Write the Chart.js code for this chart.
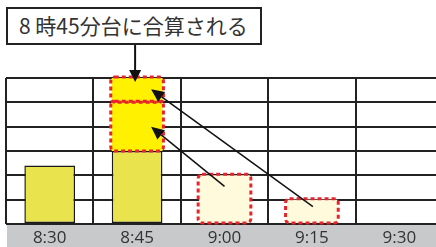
<!DOCTYPE html>
<html>
<head>
<meta charset="utf-8">
<script src="https://cdn.jsdelivr.net/npm/chart.js@4/dist/chart.umd.min.js"></script>
<style>
  body { margin: 0; background: #fff; }
  #wrap { position: relative; width: 436px; height: 247px; overflow: hidden; }
  #chart { position: absolute; left: 0; top: 0; }
  #note {
    position: absolute; left: 6px; top: 7px; width: 256px; height: 38px;
    box-sizing: border-box; border: 2px solid #222; background: #fff;
    font: 21px "Noto Sans CJK JP", sans-serif; color: #333;
    line-height: 33px; padding-left: 11px; white-space: nowrap;
  }
</style>
</head>
<body>
<div id="wrap">
  <canvas id="chart" width="443" height="247"></canvas>
  <div id="note">8 時45分台に合算される</div>
</div>
<script>
// time slots
const categories = ['8:30', '8:45', '9:00', '9:15', '9:30'];
// counts already in their slot
const baseValues = [2.4, 3, 0, 0, 0];
// counts from 9:00 added into 8:45
const movedFrom900 = [0, 2, 0, 0, 0];
// counts from 9:15 added into 8:45
const movedFrom915 = [0, 1, 0, 0, 0];
// where those counts originally were
const originalLate = [0, 0, 2, 1, 0];

const DASHED = [1, 2, 3];

const bandPlugin = {
  id: 'band',
  beforeDraw(chart) {
    const { ctx, chartArea } = chart;
    ctx.save();
    ctx.fillStyle = '#C8C9CB';
    ctx.fillRect(chartArea.left + 1, chartArea.bottom + 1, chart.width, chart.height - chartArea.bottom);
    ctx.restore();
  }
};

function arrow(ctx, x1, y1, x2, y2, head, wide) {
  const a = Math.atan2(y2 - y1, x2 - x1);
  const bx = x2 - head * Math.cos(a), by = y2 - head * Math.sin(a);
  ctx.beginPath();
  ctx.moveTo(x1, y1);
  ctx.lineTo(bx, by);
  ctx.stroke();
  ctx.beginPath();
  ctx.moveTo(x2, y2);
  ctx.lineTo(bx + wide * Math.sin(a), by - wide * Math.cos(a));
  ctx.lineTo(bx - wide * Math.sin(a), by + wide * Math.cos(a));
  ctx.closePath();
  ctx.fill();
}

const dashPlugin = {
  id: 'dashes',
  afterDatasetsDraw(chart) {
    const ctx = chart.ctx;
    ctx.save();
    ctx.strokeStyle = '#E8232B';
    ctx.lineWidth = 3;
    ctx.setLineDash([4, 3]);
    DASHED.forEach(di => {
      chart.getDatasetMeta(di).data.forEach(el => {
        if (Math.abs(el.base - el.y) < 1) return;
        const l = el.x - el.width / 2 - 1, t = el.y - 1;
        ctx.beginPath();
        ctx.roundRect(l, t, el.width + 2, el.base - el.y + 1, 4);
        ctx.stroke();
      });
    });
    ctx.restore();

    // arrows from the late slots into 8:45
    const late = chart.getDatasetMeta(3).data;
    const mid = chart.getDatasetMeta(1).data[1];
    const top = chart.getDatasetMeta(2).data[1];
    ctx.save();
    ctx.strokeStyle = '#111';
    ctx.fillStyle = '#111';
    ctx.lineWidth = 1.5;
    const s1 = late[2], s2 = late[3];
    arrow(ctx, s1.x, s1.y + (s1.base - s1.y) * 0.23, mid.x + 14, (mid.y + mid.base) / 2, 13, 6);
    arrow(ctx, s2.x + 1, s2.y + (s2.base - s2.y) * 0.3, top.x + 14, (top.y + top.base) / 2 - 1, 13, 6);
    // callout pointer
    ctx.lineWidth = 2;
    arrow(ctx, top.x - 2, 45, top.x - 2, top.y + 4, 12, 6);
    ctx.restore();
  }
};

new Chart(document.getElementById('chart'), {
  type: 'bar',
  data: {
    labels: categories,
    datasets: [
      { label: 'base', data: baseValues, backgroundColor: '#E9E34D', borderColor: '#1a1a1a', borderWidth: 1.5, borderSkipped: false },
      { label: '9:00から', data: movedFrom900, backgroundColor: '#FFF100', borderWidth: 0 },
      { label: '9:15から', data: movedFrom915, backgroundColor: '#FFF100', borderWidth: 0 },
      { label: '元', data: originalLate, backgroundColor: '#FFFADB', borderWidth: 0 }
    ]
  },
  options: {
    responsive: false,
    animation: false,
    devicePixelRatio: 1,
    layout: { padding: { left: 6, top: 78, right: 0, bottom: 0 } },
    plugins: { legend: { display: false }, tooltip: { enabled: false } },
    datasets: { bar: { categoryPercentage: 1, barPercentage: 0.58 } },
    scales: {
      x: {
        stacked: true,
        grid: { color: '#222', lineWidth: 2, drawTicks: false, offset: true },
        border: { display: false },
        ticks: { color: '#333', font: { family: 'Open Sans', size: 17 }, padding: 4 },
        afterFit(scale) { scale.height = 23; }
      },
      y: {
        stacked: true,
        min: 0,
        max: 6,
        grid: { color: '#222', lineWidth: 2, drawTicks: false },
        border: { display: false },
        ticks: { display: false, stepSize: 1 },
        afterFit(scale) { scale.width = 0; }
      }
    }
  },
  plugins: [bandPlugin, dashPlugin]
});
</script>
</body>
</html>
